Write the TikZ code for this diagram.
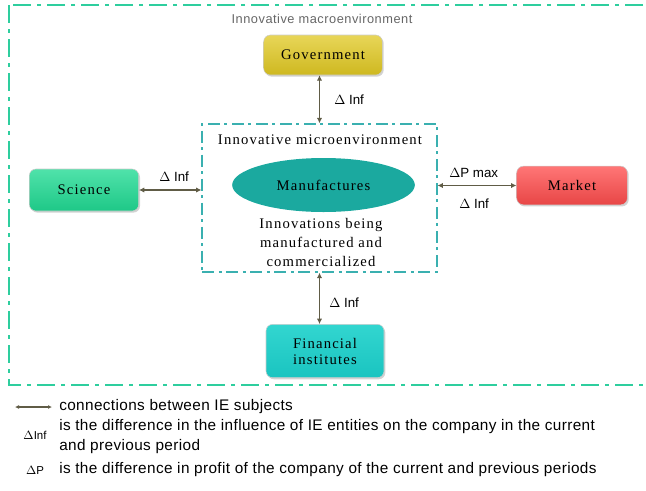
\documentclass[tikz,border=0pt]{standalone}
\usepackage{fontspec}
\setmainfont{Liberation Serif}
\setsansfont{Liberation Sans}
\newfontfamily\boxfont[LetterSpace=8]{Liberation Serif}
\newfontfamily\legendfont[LetterSpace=2.5]{Liberation Sans}
\newfontfamily\titlefont[LetterSpace=4]{Liberation Sans}
\usetikzlibrary{arrows.meta,shapes.geometric,shadows}

\definecolor{govtop}{RGB}{232,214,88}
\definecolor{govbot}{RGB}{206,184,32}
\definecolor{scitop}{RGB}{80,226,170}
\definecolor{scibot}{RGB}{30,200,135}
\definecolor{mkttop}{RGB}{255,118,118}
\definecolor{mktbot}{RGB}{232,70,70}
\definecolor{fintop}{RGB}{50,214,208}
\definecolor{finbot}{RGB}{26,196,192}
\definecolor{manuf}{RGB}{27,169,159}
\definecolor{macroline}{RGB}{46,206,158}
\definecolor{microline}{RGB}{58,176,176}
\definecolor{linkcol}{RGB}{96,92,70}

\tikzset{
	subject/.style={rectangle, rounded corners=5pt, draw=black!20, line width=0.4pt,
		drop shadow={shadow xshift=1pt, shadow yshift=-1.2pt, opacity=0.35},
		font=\boxfont\fontsize{11}{12}\selectfont, align=center, inner sep=2pt},
	link/.style={draw=linkcol, line width=1.3pt, {Latex[length=4pt,width=4pt]}-{Latex[length=4pt,width=4pt]}},
	deltalabel/.style={font=\sffamily\fontsize{10}{11}\selectfont, inner sep=0.75pt},
	legendtext/.style={font=\legendfont\fontsize{11.5}{15}\selectfont, anchor=west, inner sep=0.75pt, align=left},
	macroframe/.style={line width=1.2pt, dash pattern=on 13.5pt off 4.5pt on 3pt off 4.5pt},
	microframe/.style={line width=1.1pt, dash pattern=on 9pt off 3.5pt on 2pt off 3.5pt}
}

\begin{document}
\begin{tikzpicture}[x=0.75pt,y=0.75pt,yscale=-1,xscale=1]
	\useasboundingbox (0,0) rectangle (646,490);
	\clip (0,0) rectangle (646,490);
	
	% macro environment frame (open on the right)
	\draw [macroframe, draw=macroline] (9,5) rectangle (660,385);
	\draw (322,19) node [font=\titlefont\fontsize{9.6}{10}\selectfont, text=black!60, inner sep=0.75pt] (macrotitle) {Innovative macroenvironment};
	
	% micro environment frame
	\node [microframe, draw=microline, minimum width=176pt, minimum height=111pt, inner sep=0pt] (micro) at (319.5,198) {};
	\draw (320,140) node [font=\boxfont\fontsize{11}{12}\selectfont, inner sep=0.75pt] (microtitle) {Innovative microenvironment};
	\node [ellipse, fill=manuf, minimum width=137pt, minimum height=40.5pt, inner sep=0pt,
		font=\boxfont\fontsize{11}{12}\selectfont] (manuf) at (323.5,185) {Manufactures};
	\draw (321,242.5) node [font=\boxfont\fontsize{11}{14.6}\selectfont, align=center, inner sep=0.75pt] (innov) {Innovations being\\manufactured and\\commercialized};
	
	% IE subjects
	\node [subject, top color=govtop, bottom color=govbot, minimum width=89pt, minimum height=30pt] (gov) at (323,55) {Government};
	\node [subject, top color=scitop, bottom color=scibot, minimum width=82pt, minimum height=31.5pt] (sci) at (84,190) {Science};
	\node [subject, top color=mkttop, bottom color=mktbot, minimum width=83pt, minimum height=29pt] (mkt) at (572,185.5) {Market};
	\node [subject, top color=fintop, bottom color=finbot, minimum width=88.5pt, minimum height=40pt] (fin) at (325,351) {Financial\\institutes};
	
	% connections
	\draw [link] (gov.south -| micro.north) -- (micro.north);
	\draw [link] (sci.east) -- (sci.east -| micro.west);
	\draw [link] (mkt.west -| micro.east) -- (mkt.west);
	\draw [link] (micro.south) -- (micro.south |- fin.north);
	
	% Text Node
	\draw (333,100) node [anchor=west, deltalabel] (govdelta) {$\Delta$ Inf};
	\draw (158,177) node [anchor=west, deltalabel] (scidelta) {$\Delta$ Inf};
	\draw (448,173) node [anchor=west, deltalabel] (mktprofit) {$\Delta$P max};
	\draw (458,204) node [anchor=west, deltalabel] (mktdelta) {$\Delta$ Inf};
	\draw (328,303) node [anchor=west, deltalabel] (findelta) {$\Delta$ Inf};
	
	% legend
	\coordinate (legstart) at (15,407);
	\coordinate (legend) at (52,407);
	\draw [draw=linkcol, line width=0.9pt, {Latex[length=3pt,width=3pt]}-{Latex[length=3pt,width=3pt]}] (legstart) -- (legend);
	\node [legendtext] (legconn) at (58,407) {connections between IE subjects};
	\node [font=\sffamily\fontsize{8.6}{10}\selectfont, inner sep=0.75pt] (leginfsym) at (35,435) {$\Delta$Inf};
	\node [legendtext, anchor=north west] (leginf) at (58,418) {is the difference in the influence of IE entities on the company in the current\\and previous period};
	\node [font=\sffamily\fontsize{8.6}{10}\selectfont, inner sep=0.75pt] (legpsym) at (35,470) {$\Delta$P};
	\node [legendtext] (legp) at (58,470) {is the difference in profit of the company of the current and previous periods};
\end{tikzpicture}
\end{document}
